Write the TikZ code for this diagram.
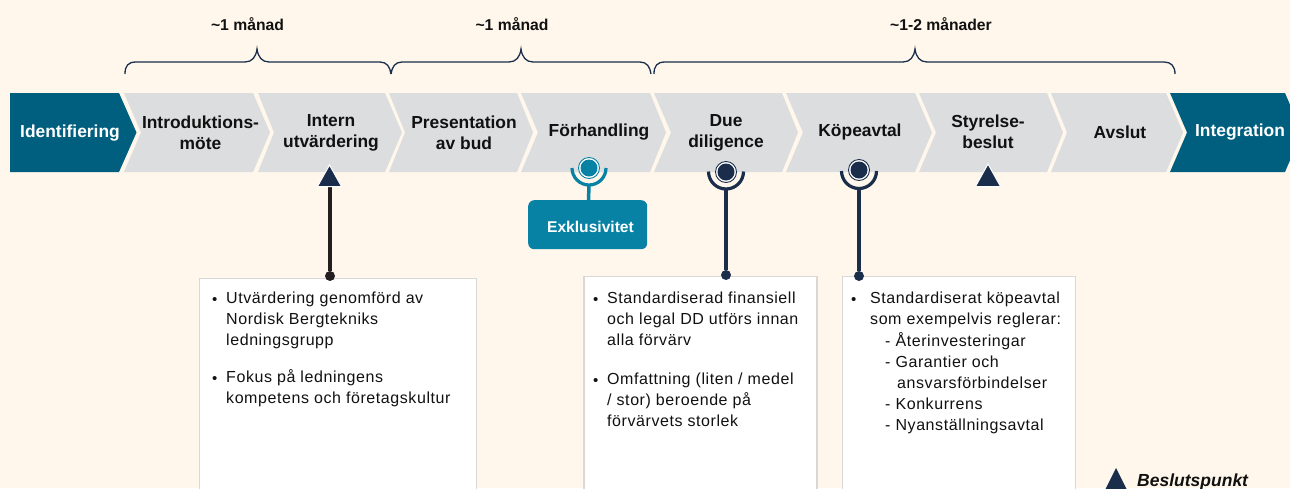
\documentclass[tikz,border=0pt]{standalone}
\usepackage{fontspec}
\setmainfont{Liberation Sans}
\newfontfamily\bodyfont[LetterSpace=3.6]{Liberation Sans}
\definecolor{bgc}{HTML}{FFF7EB}
\definecolor{grayc}{HTML}{DCDDDF}
\definecolor{tealc}{HTML}{005F7F}
\definecolor{lightteal}{HTML}{0882A4}
\definecolor{navy}{HTML}{1A2E4C}
\definecolor{stemdark}{HTML}{231F20}
\definecolor{boxline}{HTML}{D9D8D6}
\definecolor{inkc}{HTML}{111111}
\newcommand{\chevshape}[5]{\fill[#1] (#2,93) -- (#3,93) -- (#4,132.5) -- (#3,172) -- (#2,172) -- (#5,132.5) -- cycle;}
\tikzset{
  chevgray/.style={fill=grayc,draw=none},
  chevteal/.style={fill=tealc,draw=none},
  steplabel/.style={font=\fontsize{17.4}{21}\selectfont\bfseries,text=inkc,align=center,inner sep=0pt},
  endlabel/.style={font=\fontsize{17.4}{21}\selectfont\bfseries,text=white,align=center,inner sep=0pt},
  timelabel/.style={font=\fontsize{15.7}{18}\selectfont\bfseries,text=inkc,inner sep=0pt},
  bracec/.style={draw=navy,line width=1.3pt,fill=none},
  infobox/.style={fill=white,draw=boxline,line width=1.5pt},
  bodytext/.style={font=\bodyfont\fontsize{16}{21}\selectfont,text=inkc,align=left,anchor=north west,inner sep=0pt,execute at begin node={\rule{0pt}{12pt}}},
  bulletmark/.style={font=\fontsize{15}{21}\selectfont,text=inkc,anchor=base west,inner sep=0pt},
  stemline/.style={line width=3.5pt},
  cup/.style={line width=3.2pt,fill=none},
  dotend/.style={circle,fill=navy,minimum size=10pt,inner sep=0pt},
  ringmark/.style={circle,minimum size=21pt,inner sep=0pt,line width=0.9pt,draw=#1,fill=white},
  ringcore/.style={circle,minimum size=17pt,inner sep=0pt,fill=#1},
  tri/.style={fill=navy,draw=none},
  tribg/.style={fill=navy,draw=white,line width=1pt,line join=miter},
}
\begin{document}
\begin{tikzpicture}[x=1pt,y=-1pt]
\useasboundingbox (0,0) rectangle (1290,488);
\clip (0,0) rectangle (1290,488);
\fill[bgc] (0,0) rectangle (1290,488);

% chevrons
\fill[chevteal] (10,93) -- (119,93) -- (136.5,132.5) -- (119,172) -- (10,172) -- cycle;
\chevshape{chevgray}{124}{253}{270}{141}
\chevshape{chevgray}{258}{385}{402}{274}
\chevshape{chevgray}{389}{517}{533}{405}
\chevshape{chevgray}{521}{650}{666}{538}
\chevshape{chevgray}{654}{782}{798}{671}
\chevshape{chevgray}{786}{915}{932}{803}
\chevshape{chevgray}{919}{1047}{1063}{936}
\chevshape{chevgray}{1051}{1166}{1183}{1067}
\chevshape{chevteal}{1170}{1285}{1302}{1187}

\node[endlabel] (identifiering) at (70,133) {Identifiering};
\node[steplabel] (intro) at (200.5,132.5) {Introduktions-\\möte};
\node[steplabel] (intern) at (331,132.5) {Intern\\utvärdering};
\node[steplabel] (present) at (464,132.5) {Presentation\\av bud};
\node[steplabel] (forhand) at (599,132) {Förhandling};
\node[steplabel] (due) at (726,132.5) {Due\\diligence};
\node[steplabel] (kop) at (860,132) {Köpeavtal};
\node[steplabel] (styr) at (988,132) {Styrelse-\\beslut};
\node[steplabel] (avslut) at (1120,132) {Avslut};
\node[endlabel] (integ) at (1240,132.5) {Integration};

% time labels
\node[timelabel] (t1) at (247.5,24) {\textasciitilde 1 månad};
\node[timelabel] (t2) at (512,24) {\textasciitilde 1 månad};
\node[timelabel] (t3) at (941,24) {\textasciitilde 1-2 månader};

% braces
\draw[bracec] (125,74) .. controls (125,66) and (128,62) .. (136,62) -- (245,62) .. controls (252,62) and (256,57) .. (257,49) .. controls (258,57) and (262,62) .. (269,62) -- (380,62) .. controls (387,62) and (390,67) .. (391,74);
\draw[bracec] (391,74) .. controls (392,67) and (395,62) .. (402,62) -- (509,62) .. controls (516,62) and (520,57) .. (521,49) .. controls (522,57) and (526,62) .. (533,62) -- (640,62) .. controls (647,62) and (650,67) .. (651,74);
\draw[bracec] (654,74) .. controls (654,66) and (657,62) .. (665,62) -- (903,62) .. controls (910,62) and (914,57) .. (915,49) .. controls (916,57) and (920,62) .. (927,62) -- (1164,62) .. controls (1171,62) and (1175,66) .. (1175,74);

% info boxes
\node[infobox,anchor=north west,minimum width=277pt,minimum height=240pt,inner sep=0pt] (boxa) at (198.5,277.5) {};
\node[infobox,anchor=north west,minimum width=233pt,minimum height=240pt,inner sep=0pt] (boxb) at (583,275.5) {};
\node[infobox,anchor=north west,minimum width=233pt,minimum height=240pt,inner sep=0pt] (boxc) at (841.5,275.5) {};

% box texts
\node[bulletmark] at (212,304) {•};
\node[bodytext] (a1) at (226,292) {Utvärdering genomförd av\\Nordisk Bergtekniks\\ledningsgrupp};
\node[bulletmark] at (212,383) {•};
\node[bodytext] (a2) at (226,369.5) {Fokus på ledningens\\kompetens och företagskultur};
\node[bulletmark] at (593,304) {•};
\node[bodytext] (b1) at (607,292) {Standardiserad finansiell\\och legal DD utförs innan\\alla förvärv};
\node[bulletmark] at (593,385) {•};
\node[bodytext] (b2) at (607,373) {Omfattning (liten / medel\\/ stor) beroende på\\förvärvets storlek};
\node[bulletmark] at (851,304) {•};
\node[bodytext] (c1) at (870,292) {Standardiserat köpeavtal\\som exempelvis reglerar:};
\node[bodytext] (c2) at (885,332) {- Återinvesteringar\\- Garantier och\\\hspace*{12pt}ansvarsförbindelser\\- Konkurrens\\- Nyanställningsavtal};

% Intern marker
\node[dotend,fill=stemdark] (dotA) at (330,276) {};
\coordinate (triA) at (330,184);
\draw[stemline,draw=stemdark] (triA) -- (dotA);
\draw[tribg] (329.5,165) -- (341.5,186.5) -- (317.5,186.5) -- cycle;

% Exklusivitet marker
\node[fill=lightteal,rounded corners=6pt,minimum width=119pt,minimum height=49pt,inner sep=0pt,anchor=north west] (exkl) at (528,200) {};
\node[font=\fontsize{15.6}{18}\selectfont\bfseries,text=white,inner sep=0pt] (exkltext) at (590.5,227) {Exklusivitet};
\coordinate (cupE) at (589,185);
\draw[stemline,draw=lightteal] (cupE) -- (exkl);
\draw[cup,draw=lightteal] (572,168) arc[start angle=180,end angle=360,radius=17pt];
\node[ringmark=lightteal] (ringE) at (589,168) {};
\node[ringcore=lightteal] at (ringE) {};

% Due marker
\node[dotend] (dotB) at (726,275) {};
\coordinate (cupB) at (726,189);
\draw[stemline,draw=navy] (cupB) -- (dotB);
\draw[cup,draw=navy] (708.5,171.5) arc[start angle=180,end angle=360,radius=17.5pt];
\node[ringmark=navy] (ringB) at (726,172) {};
\node[ringcore=navy] at (ringB) {};

% Kopeavtal marker
\node[dotend] (dotC) at (859,276) {};
\coordinate (cupC) at (859,188.5);
\draw[stemline,draw=navy] (cupC) -- (dotC);
\draw[cup,draw=navy] (841.5,171) arc[start angle=180,end angle=360,radius=17.5pt];
\node[ringmark=navy] (ringC) at (859,170) {};
\node[ringcore=navy] at (ringC) {};

% Styrelse triangle
\draw[tribg] (988,164) -- (1000.5,186.5) -- (975.5,186.5) -- cycle;

% Legend
\fill[tri] (1116,468) -- (1127,490) -- (1105,490) -- cycle;
\node[font=\fontsize{17.5}{20}\selectfont\bfseries\itshape,text=inkc,anchor=base west,inner sep=0pt] (legend) at (1137,486) {Beslutspunkt};
\end{tikzpicture}
\end{document}
